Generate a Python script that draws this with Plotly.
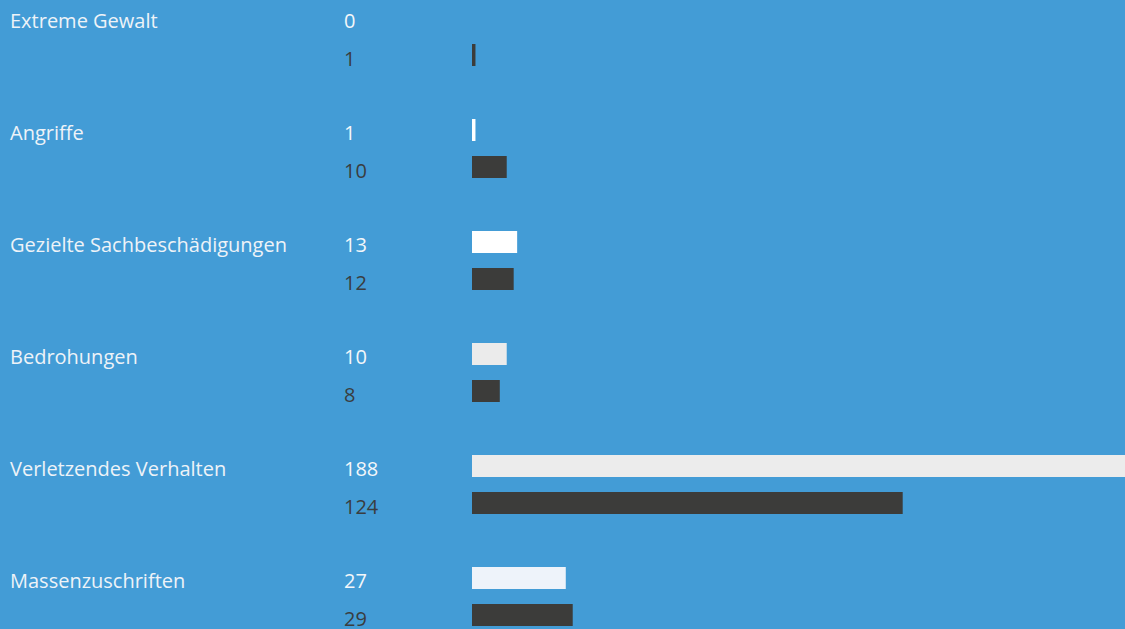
import plotly.graph_objects as go

categories = ["Extreme Gewalt", "Angriffe", "Gezielte Sachbeschädigungen",
              "Bedrohungen", "Verletzendes Verhalten", "Massenzuschriften"]
values_current = [0, 1, 13, 10, 188, 27]
values_previous = [1, 10, 12, 8, 124, 29]
light_colors = ["#ffffff", "#ffffff", "#ffffff", "#ebebeb", "#ececec", "#eef3fa"]
dark_color = "#3c3c3a"
bg = "#439cd6"

W, H = 1125, 629
L = 472
slot = 112.0
top_center = 36.5  # pixel of first category slot center

fig = go.Figure()
fig.add_trace(go.Bar(y=categories, x=values_current, orientation="h",
                     marker=dict(color=light_colors, line_width=0),
                     hoverinfo="skip", name="cur"))
fig.add_trace(go.Bar(y=categories, x=values_previous, orientation="h",
                     marker=dict(color=dark_color, line_width=0),
                     hoverinfo="skip", name="prev"))

x0_paper = lambda px: (px - L) / (W - L)
FONT = "Open Sans"
FS = 20
ann = []
for c, a, b in zip(categories, values_current, values_previous):
    ann.append(dict(x=x0_paper(8), xref="paper", y=c, yref="y", text=c,
                    xanchor="left", yanchor="middle", showarrow=False, yshift=16,
                    font=dict(family=FONT, size=FS, color="#eef3f8")))
    ann.append(dict(x=x0_paper(342), xref="paper", y=c, yref="y", text=str(a),
                    xanchor="left", yanchor="middle", showarrow=False, yshift=16,
                    font=dict(family=FONT, size=FS, color="#f4f7fa")))
    ann.append(dict(x=x0_paper(342), xref="paper", y=c, yref="y", text=str(b),
                    xanchor="left", yanchor="middle", showarrow=False, yshift=-21.5,
                    font=dict(family=FONT, size=FS, color="#3a3d40")))

span = H / slot
r_top = -top_center / slot
r_bot = r_top + span

fig.update_layout(
    width=W, height=H,
    margin=dict(l=L, r=0, t=0, b=0),
    paper_bgcolor=bg, plot_bgcolor=bg,
    barmode="group", bargap=1 - 74 / slot, bargroupgap=0.405,
    showlegend=False,
    xaxis=dict(range=[0, 188], visible=False, fixedrange=True),
    yaxis=dict(range=[r_bot, r_top], visible=False, fixedrange=True),
    annotations=ann,
)
fig.write_html("out.html", config={"displayModeBar": False},
               post_script="document.body.style.margin='0';document.body.style.overflow='hidden';")
